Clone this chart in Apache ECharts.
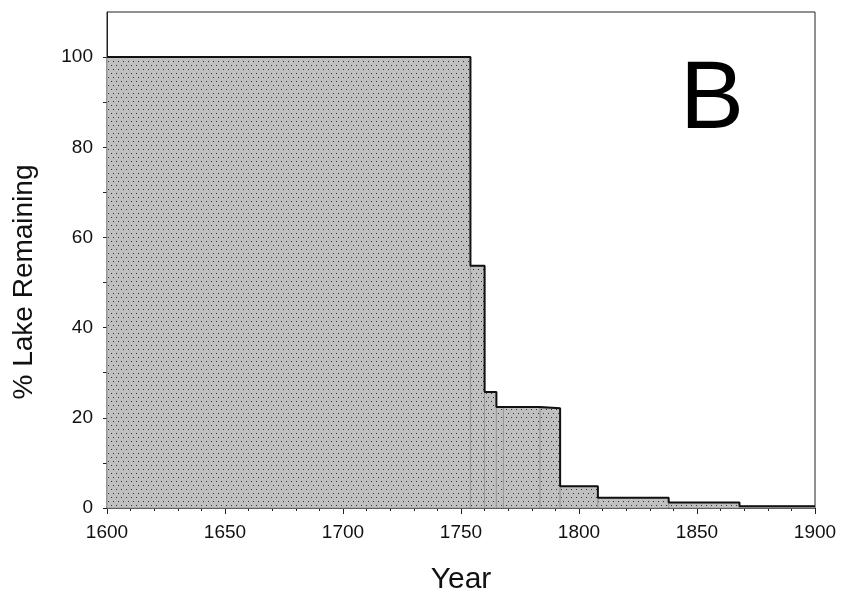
<!DOCTYPE html>
<html>
<head>
<meta charset="utf-8">
<title>% Lake Remaining</title>
<script src="https://cdn.jsdelivr.net/npm/echarts@6/dist/echarts.min.js"></script>
<style>
  html, body { margin: 0; padding: 0; background: #fff; }
  #chart { width: 841px; height: 598px; }
</style>
</head>
<body>
<div id="chart"></div>
<script>
// Step periods: start year, end year, % of lake left in that period
const stepStart = [1600, 1754, 1760, 1765, 1768, 1783.5, 1792, 1808, 1838, 1868];
const stepEnd = [1754, 1760, 1765, 1768, 1783.5, 1792, 1808, 1838, 1868, 1900];
const remaining = [100, 53.7, 25.7, 22.4, 22.4, 22.1, 4.8, 2.3, 1.2, 0.4];

// Tick values
const yLabelValues = [0, 20, 40, 60, 80, 100];
const yTickValues = [0, 10, 20, 30, 40, 50, 60, 70, 80, 90, 100];

const fontFamily = '"Liberation Sans", Arial, sans-serif';

// Dotted grey fill like the original
function makeDotPattern() {
    const c = document.createElement('canvas');
    c.width = 10;
    c.height = 8;
    const ctx = c.getContext('2d');
    ctx.fillStyle = '#c0c0c0';
    ctx.fillRect(0, 0, 10, 8);
    ctx.fillStyle = '#333';
    [[1, 1], [6, 1], [3, 5], [8, 5]].forEach(p => ctx.fillRect(p[0], p[1], 1, 1));
    return c;
}

const barData = stepStart.map((s, i) => [s, stepEnd[i], remaining[i]]);

// outline: step points at each period start plus the final end year
const outlineData = stepStart.map((s, i) => [s, remaining[i]]);
outlineData.push([stepEnd[stepEnd.length - 1], remaining[remaining.length - 1]]);

const chart = echarts.init(document.getElementById('chart'));
const dotPattern = { image: makeDotPattern(), repeat: 'repeat' };

const option = {
    animation: false,
    grid: {
        left: 107,
        right: 26,
        top: 12,
        bottom: 90,
        show: true,
        borderColor: '#222',
        borderWidth: 1
    },
    xAxis: {
        type: 'value',
        min: 1600,
        max: 1900,
        interval: 50,
        axisLine: { show: true, lineStyle: { color: '#222', width: 1 } },
        axisTick: { show: true, length: 6, lineStyle: { color: '#222' } },
        minorTick: { show: true, splitNumber: 5, length: 3, lineStyle: { color: '#222' } },
        splitLine: { show: false },
        axisLabel: {
            color: '#111',
            fontSize: 19,
            fontFamily: fontFamily,
            margin: 15,
            formatter: function(v) { return String(v); }
        }
    },
    yAxis: {
        type: 'value',
        min: 0,
        max: 110,
        interval: 10,
        axisLine: { show: true, lineStyle: { color: '#222', width: 1 } },
        axisTick: { show: true, length: 4, customValues: yTickValues, lineStyle: { color: '#222' } },
        splitLine: { show: false },
        axisLabel: {
            color: '#111',
            fontSize: 19,
            fontFamily: fontFamily,
            margin: 14,
            customValues: yLabelValues
        }
    },
    graphic: [
        {
            type: 'text',
            x: 24,
            y: 282,
            rotation: Math.PI / 2,
            style: {
                text: '% Lake Remaining',
                fontSize: 28,
                fontFamily: fontFamily,
                fill: '#111',
                textAlign: 'center',
                textVerticalAlign: 'middle'
            }
        },
        {
            type: 'text',
            x: 461,
            y: 580,
            style: {
                text: 'Year',
                fontSize: 30,
                fontFamily: fontFamily,
                fill: '#111',
                textAlign: 'center',
                textVerticalAlign: 'middle'
            }
        },
        {
            type: 'text',
            x: 712,
            y: 102,
            style: {
                text: 'B',
                fontSize: 96,
                fontFamily: fontFamily,
                fill: '#000',
                textAlign: 'center',
                textVerticalAlign: 'middle'
            }
        }
    ],
    series: [
        {
            type: 'custom',
            data: barData,
            encode: { x: [0, 1], y: 2 },
            renderItem: function(params, api) {
                const p0 = api.coord([api.value(0), api.value(2)]);
                const p1 = api.coord([api.value(1), 0]);
                return {
                    type: 'rect',
                    shape: { x: p0[0], y: p0[1], width: p1[0] - p0[0], height: p1[1] - p0[1] },
                    style: { fill: dotPattern, stroke: '#999', lineWidth: 1 }
                };
            },
            z: 2
        },
        {
            type: 'line',
            data: outlineData,
            step: 'end',
            symbol: 'none',
            lineStyle: { color: '#111', width: 2 },
            z: 3
        }
    ]
};

chart.setOption(option);
</script>
</body>
</html>
